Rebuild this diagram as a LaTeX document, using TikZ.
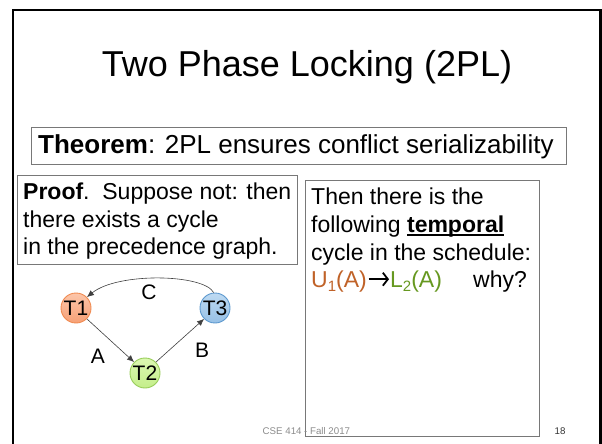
\documentclass[tikz,border=0pt]{standalone}
\usepackage{fontspec}
\setmainfont{Liberation Sans}
\usetikzlibrary{arrows.meta}
\definecolor{uorange}{RGB}{192,98,40}
\definecolor{lgreen}{RGB}{102,152,32}
\definecolor{boxgray}{RGB}{120,120,120}
\definecolor{foot}{RGB}{140,140,140}
\newcommand\thickul[1]{\setbox0\hbox{#1}\rlap{\rule[-3.4pt]{\wd0}{1.7pt}}\box0}
\newcommand\lowsub[1]{\raisebox{-4.5bp}{\fontsize{15bp}{18bp}\selectfont #1}}
\tikzset{
  frameline/.style={line width=2.6pt,black},
  textbox/.style={draw=boxgray,line width=0.9pt},
  bodytext/.style={anchor=base west,inner sep=0pt,font=\fontsize{23bp}{27.6bp}\selectfont},
  tnode/.style={circle,minimum size=30bp,inner sep=0pt,line width=0.9pt,font=\fontsize{21bp}{25bp}\selectfont},
  edge/.style={draw=black!75,line width=0.6pt,-{Latex[length=7bp,width=6bp]}},
  textarrow/.style={draw=black,line width=1.8bp,-{Straight Barb[length=5bp,width=13bp,line width=1.8bp]}},
  elabel/.style={inner sep=0pt,font=\fontsize{21bp}{25bp}\selectfont},
  foottext/.style={anchor=base,inner sep=0pt,font=\fontsize{9.7bp}{11bp}\selectfont}
}
\begin{document}
\begin{tikzpicture}[x=1bp,y=-1bp]
\useasboundingbox (0,0) rectangle (602,444);
\fill[white] (0,0) rectangle (602,444);
% slide frame
\draw[frameline] (13,446) -- (13,10) -- (600.5,10) -- (600.5,446);
% title
\node[anchor=base,inner sep=0pt,font=\fontsize{36bp}{43bp}\selectfont] (title) at (307,77) {Two Phase Locking (2PL)};
% theorem box
\draw[textbox] (31.5,127) rectangle (566,164);
\node[anchor=base west,inner sep=0pt,font=\fontsize{26bp}{31bp}\selectfont] (thm) at (38,154) {\textbf{Theorem}: 2PL ensures conflict serializability};
% proof box
\draw[textbox] (17,175) rectangle (297.5,264);
\node[bodytext] (p1) at (23,200) {\textbf{Proof}.\ \ Suppose not: then};
\node[bodytext] (p2) at (23,227.7) {there exists a cycle};
\node[bodytext] (p3) at (23,255) {in the precedence graph.};
% right box
\draw[textbox] (305.5,180) rectangle (539,436);
\node[bodytext] (r1) at (311,205) {Then there is the};
\node[bodytext] (r2) at (311,232.7) {following \thickul{\textbf{temporal}}};
\node[bodytext] (r3) at (311,260.5) {cycle in the schedule:};
\node[bodytext,text=uorange] (u1) at (311,287.5) {U\lowsub{1}(A)};
\node[bodytext,text=lgreen] (l2) at (390,287.5) {L\lowsub{2}(A)};
\draw[textarrow] ([xshift=1.5bp,yshift=8.3bp]u1.base east) -- ([xshift=-1bp,yshift=8.3bp]l2.base west);
\node[bodytext] (why) at (473,287.5) {why?};
% graph
\node[tnode,draw={rgb,255:red,240;green,138;blue,80},top color={rgb,255:red,252;green,198;blue,170},bottom color={rgb,255:red,246;green,160;blue,118}] (T1) at (76,308) {T1};
\node[tnode,draw={rgb,255:red,152;green,205;blue,90},top color={rgb,255:red,220;green,248;blue,178},bottom color={rgb,255:red,196;green,238;blue,138}] (T2) at (145,373) {T2};
\node[tnode,draw={rgb,255:red,92;green,152;blue,206},top color={rgb,255:red,190;green,218;blue,242},bottom color={rgb,255:red,150;green,192;blue,230}] (T3) at (215,308) {T3};
\draw[edge] (T1.-45) -- (T2.135);
\draw[edge] (T2.45) -- (T3.-135);
\draw[edge] (T3.95) .. controls (204,274) and (118,272) .. (T1.45);
\node[elabel] (A) at (98,356) {A};
\node[elabel] (B) at (202,350) {B};
\node[elabel] (C) at (149,292) {C};
% footer
\node[foottext,text=foot] (footer) at (306.4,434) {CSE 414 - Fall 2017};
\node[foottext,text=black!80] (pagenum) at (560,434) {18};
\end{tikzpicture}
\end{document}
